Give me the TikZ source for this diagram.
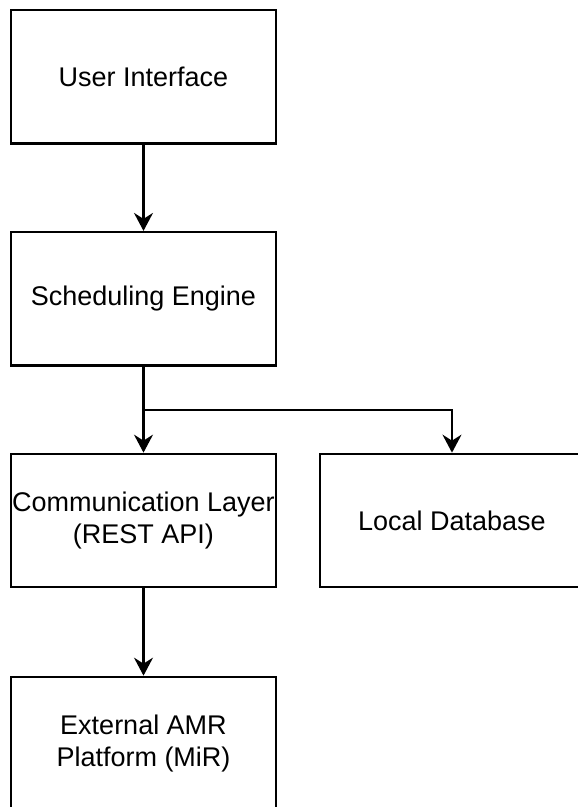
\documentclass[tikz,border=0pt]{standalone}
\usepackage{fontspec}
\setmainfont{Liberation Sans}
\usetikzlibrary{arrows.meta}
\begin{document}
\begin{tikzpicture}[x=1pt,y=-1pt,
  box/.style={draw=black, line width=2.2pt, rectangle, minimum width=265pt, minimum height=133.5pt, align=center, inner sep=0pt, font=\fontsize{27}{32}\selectfont},
  arr/.style={line width=2.2pt, -{Stealth[length=18pt,width=19pt,inset=6pt]}}]
\useasboundingbox (0,0) rectangle (578,807);
\clip (0,0) rectangle (578,807);
\node[box] (ui) at (143.5,76.75) {User Interface};
\node[box] (se) at (143.5,298.75) {Scheduling Engine};
\node[box] (comm) at (143.5,520.5) {Communication Layer\\(REST API)};
\node[box, minimum width=264pt] (db) at (452,520.5) {Local Database};
\node[box] (ext) at (143.5,743.5) {External AMR\\Platform (MiR)};
\coordinate (br) at (143.5,410);
\draw[arr] (ui) -- (se);
\draw[arr] (se) -- (comm);
\draw[arr] (br) -| (db.north);
\draw[arr] (comm) -- (ext);
\end{tikzpicture}
\end{document}
